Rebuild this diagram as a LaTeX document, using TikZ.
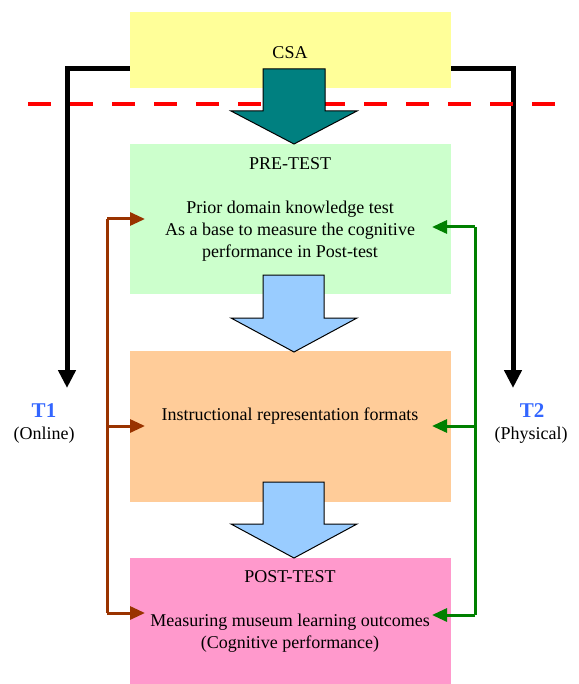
\documentclass[tikz,border=0pt]{standalone}
\usepackage{fontspec}
\setmainfont{Liberation Serif}
\usetikzlibrary{arrows.meta,positioning}

\definecolor{csayellow}{HTML}{FFFF99}
\definecolor{pregreen}{HTML}{CCFFCC}
\definecolor{instrorange}{HTML}{FFCC99}
\definecolor{postpink}{HTML}{FF99CC}
\definecolor{flowblue}{HTML}{99CCFF}
\definecolor{csateal}{HTML}{008080}
\definecolor{onlinebrown}{HTML}{993300}
\definecolor{physgreen}{HTML}{008000}
\definecolor{tblue}{HTML}{3366FF}

\begin{document}
\begin{tikzpicture}[x=1pt, y=-1pt,
    stage/.style={fill=#1, minimum width=321pt, inner sep=0pt, anchor=north west},
    txt/.style={align=center, font=\fontsize{18}{22}\selectfont, inner sep=0pt},
    tlabel/.style={text=tblue, font=\fontsize{21}{24}\selectfont\bfseries, inner sep=0pt},
    fatarrow/.style={draw=black, line width=1pt, line join=miter, fill=#1},
    track/.style={line width=5pt, -{Triangle[length=18pt,width=17pt]}},
    online/.style={draw=onlinebrown, line width=3pt},
    physical/.style={draw=physgreen, line width=3pt}]
    \useasboundingbox (0,0) rectangle (578,684);

    % tracks T1 and T2
    \coordinate (t1turn) at (67,69);
    \coordinate (t1end) at (67,388);
    \coordinate (t2turn) at (513,69);
    \coordinate (t2end) at (513,388);
    \draw[track] (130,69) -- (t1turn) -- (t1end);
    \draw[track] (451,69) -- (t2turn) -- (t2end);

    % stages
    \node[stage=csayellow, minimum height=76pt] (csa) at (130,12) {};
    \node[stage=pregreen, minimum height=150pt] (pre) at (130,144) {};
    \node[stage=instrorange, minimum height=151pt] (instr) at (130,351) {};
    \node[stage=postpink, minimum height=126pt] (post) at (130,558) {};

    % red cut line
    \draw[red, line width=4.5pt, dash pattern=on 23pt off 19pt] (28,104) -- (560,104);

    % fat arrows
    \draw[fatarrow=csateal] (263,69) -- (325,69) -- (325,111) -- (357,111)
        -- (294,144) -- (231,111) -- (263,111) -- cycle;
    \draw[fatarrow=flowblue] (263,275) -- (324,275) -- (324,318) -- (357,318)
        -- (294,352) -- (231,318) -- (263,318) -- cycle;
    \draw[fatarrow=flowblue] (263,482) -- (324,482) -- (324,524) -- (357,524)
        -- (294,558) -- (231,524) -- (263,524) -- cycle;

    % texts
    \node[txt] (csatxt) at (290,53) {CSA};
    \node[txt] (pretitle) at (290,164) {PRE-TEST};
    \node[txt] (pretxt) at (290,231) {Prior domain knowledge test\\
        As a base to measure the cognitive\\ performance in Post-test};
    \node[txt] (instrtxt) at (290,416) {Instructional representation formats};
    \node[txt] (posttitle) at (290,577) {POST-TEST};
    \node[txt] (posttxt) at (290,633) {Measuring museum learning outcomes\\
        (Cognitive performance)};

    \node[tlabel] (t1) at (44,411) {T1};
    \node[txt] (t1sub) at (44,435) {(Online)};
    \node[tlabel] (t2) at (532,411) {T2};
    \node[txt] (t2sub) at (531,435) {(Physical)};

    % online links
    \coordinate (o1) at (107,219);
    \coordinate (o2) at (107,426);
    \coordinate (o3) at (107,613);
    \coordinate (oa1) at (145,219);
    \coordinate (oa2) at (145,426);
    \coordinate (oa3) at (145,613);
    \draw[online] (o1) -- (o3);
    \foreach \i in {1,2,3}
        \draw[online, -{Triangle[length=15pt,width=13pt]}] (o\i) -- (oa\i);

    % physical links
    \coordinate (p1) at (475,227);
    \coordinate (p2) at (475,426);
    \coordinate (p3) at (475,615);
    \coordinate (pa1) at (432,227);
    \coordinate (pa2) at (432,426);
    \coordinate (pa3) at (432,615);
    \draw[physical] (p1) -- (p3);
    \foreach \i in {1,2,3}
        \draw[physical, -{Triangle[length=15pt,width=13pt]}] (p\i) -- (pa\i);
\end{tikzpicture}
\end{document}
